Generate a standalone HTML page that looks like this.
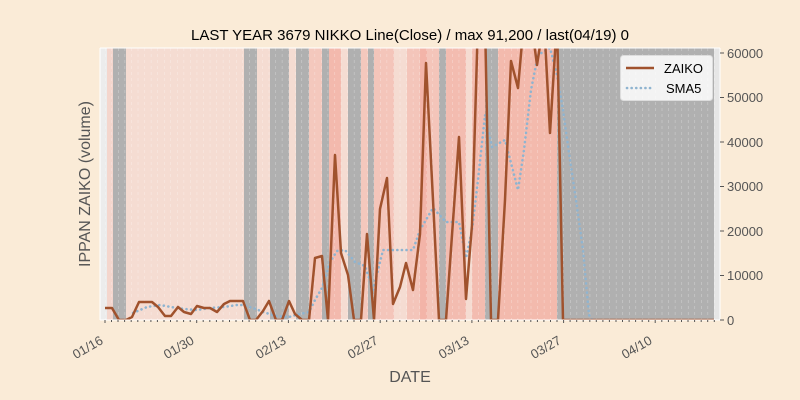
<!DOCTYPE html>
<html><head><meta charset="utf-8"><style>
html,body{margin:0;padding:0;background:#faebd7;}
svg{display:block;font-family:"Liberation Sans",sans-serif;}
</style></head><body>
<svg width="800" height="400" viewBox="0 0 800 400" xmlns="http://www.w3.org/2000/svg">
<rect width="800" height="400" fill="#faebd7"/>
<text x="410" y="40" font-size="15" text-anchor="middle" fill="#000">LAST YEAR 3679 NIKKO Line(Close) / max 91,200 / last(04/19) 0</text>
<defs>
<clipPath id="c"><rect x="100" y="48" width="620" height="272"/></clipPath>
<pattern id="g" x="105" y="0" width="6.55" height="6" patternUnits="userSpaceOnUse">
<line x1="0" y1="0" x2="0" y2="3" stroke="#fff" stroke-opacity="0.45" stroke-width="1"/>
</pattern>
</defs>
<g clip-path="url(#c)">
<rect x="100" y="48" width="620" height="272" fill="#f5dcd2"/>
<rect x="100" y="48" width="7" height="272" fill="#ececec"/>
<rect x="107" y="48" width="6" height="272" fill="#f4d6cd"/>
<rect x="113" y="48" width="13" height="272" fill="#b0b0b0"/>
<rect x="244" y="48" width="13" height="272" fill="#b0b0b0"/>
<rect x="270" y="48" width="19" height="272" fill="#b0b0b0"/>
<rect x="296" y="48" width="13" height="272" fill="#b0b0b0"/>
<rect x="309" y="48" width="13" height="272" fill="#f4c8bd"/>
<rect x="322" y="48" width="7" height="272" fill="#b0b0b0"/>
<rect x="329" y="48" width="12" height="272" fill="#f3b9ad"/>
<rect x="348" y="48" width="13" height="272" fill="#b0b0b0"/>
<rect x="361" y="48" width="7" height="272" fill="#f4c8bd"/>
<rect x="368" y="48" width="6" height="272" fill="#b0b0b0"/>
<rect x="374" y="48" width="20" height="272" fill="#f4c5ba"/>
<rect x="407" y="48" width="13" height="272" fill="#f4c5ba"/>
<rect x="420" y="48" width="7" height="272" fill="#f3b4a8"/>
<rect x="427" y="48" width="12" height="272" fill="#f4c5ba"/>
<rect x="439" y="48" width="7" height="272" fill="#b0b0b0"/>
<rect x="446" y="48" width="20" height="272" fill="#f3bcb0"/>
<rect x="472" y="48" width="13" height="272" fill="#f3bcb0"/>
<rect x="485" y="48" width="13" height="272" fill="#b0b0b0"/>
<rect x="498" y="48" width="59" height="272" fill="#f3baad"/>
<rect x="557" y="48" width="157" height="272" fill="#b0b0b0"/>
<rect x="714" y="48" width="6" height="272" fill="#e6e6e6"/>
<rect x="100" y="48" width="620" height="272" fill="url(#g)"/>
<polyline fill="none" stroke="#8fb4d0" stroke-width="2.6" stroke-dasharray="0.1 4.5" stroke-linecap="round" points="133,313 147,307 160,305 171,307 184,309 197,310 210,308 224,307 237,305 243,305 256,309 263,312 276,316 289,317 296,315 309,312 315,300 322,288 330,262 337,251 345,250 355,262 365,266 373,290 383,250 400,250 413,250 420,230 433,208 446,222 459,222 466,258 472,230 478,180 485,115 492,147 505,140 518,190 524,150 531,90 538,55 550,48 557,75 563,110 570,160 576,200 583,250 589,315 592,320 714,320"/>
<polyline fill="none" stroke="#a0522d" stroke-width="2.5" stroke-linejoin="round" points="105,308 112,308 119,320 126,320 132,317 139,302 145,302 152,302 158,307 165,316 171,316 178,307 184,312 191,314 197,306 204,308 210,308 217,312 224,304 230,301 237,301 243,301 250,320 256,320 263,311 269,301 276,320 282,320 289,301 295,314 302,320 309,320 315,258 322,256 328,320 335,155 341,253 348,275 354,320 361,320 367,234 374,320 380,209 387,178 393,304 400,287 406,263 413,290 420,234 426,63 433,200 439,320 446,320 452,235 459,137 466,299 472,225 478,20 485,20 491,320 498,320 505,200 511,61 518,88 524,20 531,20 537,65 544,20 550,133 557,20 563,320 714,320"/>
</g>
<line x1="100" y1="48" x2="720" y2="48" stroke="#fff" stroke-width="1"/>
<line x1="100" y1="320" x2="720" y2="320" stroke="#fff" stroke-width="1"/>
<line x1="100" y1="48" x2="100" y2="320" stroke="#fff" stroke-width="1"/>
<line x1="720" y1="48" x2="720" y2="320" stroke="#fff" stroke-width="1"/>
<g stroke="#555" stroke-width="1">
<line x1="720" y1="320" x2="724" y2="320"/><line x1="720" y1="275.5" x2="724" y2="275.5"/><line x1="720" y1="231" x2="724" y2="231"/><line x1="720" y1="186.5" x2="724" y2="186.5"/><line x1="720" y1="142" x2="724" y2="142"/><line x1="720" y1="97.5" x2="724" y2="97.5"/><line x1="720" y1="53" x2="724" y2="53"/>
</g>
<g font-size="13" fill="#555">
<text x="727" y="325">0</text><text x="727" y="280">10000</text><text x="727" y="236">20000</text><text x="727" y="191">30000</text><text x="727" y="147">40000</text><text x="727" y="102">50000</text><text x="727" y="58">60000</text>
</g>
<g stroke="#555" stroke-width="1">
<path d="M105,320v3M111.5,320v2M118,320v2M124.6,320v2M131.2,320v2M137.8,320v2M144.3,320v2M150.9,320v2M157.4,320v2M164,320v2M170.5,320v2M177,320v2M183.6,320v2M190.2,320v2M196.7,320v3M203.2,320v2M209.8,320v2M216.4,320v2M222.9,320v2M229.5,320v2M236,320v2M242.6,320v2M249.1,320v2M255.7,320v2M262.2,320v2M268.8,320v2M275.3,320v2M281.9,320v2M288.4,320v3M295,320v2M301.5,320v2M308,320v2M314.6,320v2M321.2,320v2M327.8,320v2M334.3,320v2M340.9,320v2M347.4,320v2M354,320v2M360.5,320v2M367,320v2M373.6,320v2M380.2,320v3M386.7,320v2M393.3,320v2M399.8,320v2M406.4,320v2M412.9,320v2M419.5,320v2M426,320v2M432.6,320v2M439.1,320v2M445.7,320v2M452.2,320v2M458.8,320v2M465.3,320v2M471.9,320v3M478.4,320v2M485,320v2M491.5,320v2M498.1,320v2M504.6,320v2M511.2,320v2M517.7,320v2M524.3,320v2M530.8,320v2M537.4,320v2M543.9,320v2M550.5,320v2M557,320v2M563.6,320v3M570.1,320v2M576.7,320v2M583.2,320v2M589.8,320v2M596.3,320v2M602.9,320v2M609.4,320v2M616,320v2M622.5,320v2M629.1,320v2M635.6,320v2M642.2,320v2M648.7,320v2M655.2,320v3M661.8,320v2M668.4,320v2M675,320v2M681.5,320v2M688,320v2M694.6,320v2M701.2,320v2M707.7,320v2M714.3,320v2"/>
</g>
<g font-size="13" fill="#555" text-anchor="end">
<text transform="translate(104,343) rotate(-30)">01/16</text>
<text transform="translate(195,343) rotate(-30)">01/30</text>
<text transform="translate(287,343) rotate(-30)">02/13</text>
<text transform="translate(379,343) rotate(-30)">02/27</text>
<text transform="translate(470,343) rotate(-30)">03/13</text>
<text transform="translate(562,343) rotate(-30)">03/27</text>
<text transform="translate(653,343) rotate(-30)">04/10</text>
</g>
<text x="410" y="382" font-size="16" fill="#555" text-anchor="middle">DATE</text>
<text transform="translate(90,184) rotate(-90)" font-size="16" fill="#555" text-anchor="middle">IPPAN ZAIKO (volume)</text>
<rect x="620.5" y="55.5" width="92" height="45" rx="3" fill="#fff" fill-opacity="0.85" stroke="#ddd"/>
<line x1="626" y1="68" x2="654" y2="68" stroke="#a0522d" stroke-width="2.5"/>
<text x="664" y="73" font-size="13" fill="#000">ZAIKO</text>
<line x1="627" y1="88" x2="654" y2="88" stroke="#8fb4d0" stroke-width="2.6" stroke-dasharray="0.1 4.5" stroke-linecap="round"/>
<text x="666" y="93" font-size="13" fill="#000">SMA5</text>
</svg>
</body></html>
